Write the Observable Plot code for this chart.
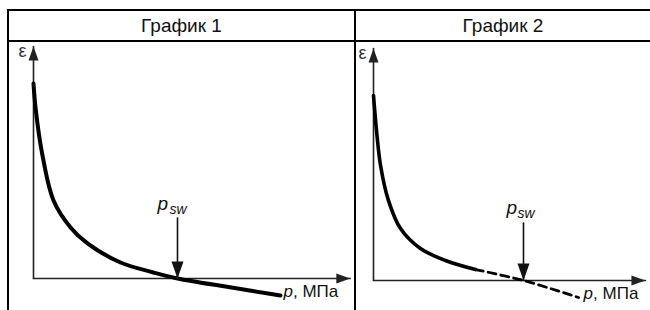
<!DOCTYPE html>
<html><head><meta charset="utf-8">
<script src="https://cdn.jsdelivr.net/npm/d3@7"></script>
<script src="https://cdn.jsdelivr.net/npm/@observablehq/plot@0.6"></script>
<style>
body{margin:0;background:#fff;font-family:"Liberation Sans",Arial,sans-serif}
#wrap{position:relative;width:650px;height:310px;overflow:hidden}
.line{position:absolute;background:#000}
.head{position:absolute;top:12px;height:28px;display:flex;align-items:center;justify-content:center;font-size:19px;color:#111}
#wrap svg{position:absolute;left:0;top:0}
</style></head><body>
<div id="wrap">
 <div class="line" style="left:7px;top:9px;width:643px;height:2px"></div>
 <div class="line" style="left:7px;top:40px;width:643px;height:2px"></div>
 <div class="line" style="left:7px;top:9px;width:2px;height:301px"></div>
 <div class="line" style="left:354px;top:9px;width:2px;height:301px"></div>
 <div class="head" style="left:9px;width:345px">График 1</div>
 <div class="head" style="left:356px;width:294px">График 2</div>
</div>
<script>
// Panel titles
const titles = ["График 1", "График 2"];
const yLabel = "ε";
const xLabelVar = "p";
const xLabelUnit = ", МПа";
const pswMain = "p";
const pswSub = "sw";

// Panel 1 curve (normalized pressure, normalized strain), psw = 1
const pressure1 = [0, 0.014, 0.06, 0.139, 0.257, 0.375, 0.604, 0.833, 1.0, 1.354, 1.715];
const strain1   = [1.0, 0.877, 0.641, 0.4, 0.262, 0.18, 0.082, 0.031, 0, -0.044, -0.087];

// Panel 2 curve: solid (measured) and dashed (extrapolated) parts
const pressure2Solid = [0, 0.02, 0.047, 0.1, 0.18, 0.313, 0.48, 0.68];
const strain2Solid   = [1.0, 0.811, 0.622, 0.432, 0.281, 0.173, 0.108, 0.059];
const pressure2Dash  = [0.68, 1.0, 1.367];
const strain2Dash    = [0.059, 0, -0.092];

const psw = 1.0;
const pswArrowTop = 0.31;

const toRows = (xs, ys) => xs.map((p, i) => ({p, e: ys[i]}));
const headSym = (len, half) => ({draw(ctx) {ctx.moveTo(0, 0); ctx.lineTo(-half, len); ctx.lineTo(half, len); ctx.closePath();}});
const axisHead = headSym(14, 5);
const pswHead = headSym(17, 6);
const AX = "#222";
const FONT = "Liberation Sans";

function panel(cfg) {
  const marks = [
    Plot.line([[0, 0], [0, cfg.yTip]], {stroke: AX, strokeWidth: 1.6}),
    Plot.line([[0, 0], [cfg.xTip, 0]], {stroke: AX, strokeWidth: 1.6}),
    Plot.dot([[0, cfg.yTip]], {symbol: axisHead, fill: AX, stroke: "none", r: 1}),
    Plot.dot([[cfg.xTip, 0]], {symbol: axisHead, fill: AX, stroke: "none", r: 1, rotate: 90}),
    ...cfg.curves,
    Plot.line([[psw, pswArrowTop], [psw, 0]], {stroke: "#111", strokeWidth: 1.6}),
    Plot.dot([[psw, 0]], {symbol: pswHead, fill: "#111", stroke: "none", r: 1, rotate: 180}),
    Plot.text([[0, cfg.yTip]], {text: [yLabel], textAnchor: "end", dx: -7, dy: 5, fontSize: 18, fill: "#333", fontFamily: FONT}),
    Plot.text([[psw, pswArrowTop]], {text: [pswMain], textAnchor: "start", dx: cfg.pDx, dy: cfg.pDy, fontSize: 19, fontStyle: "italic", fill: "#111", fontFamily: FONT}),
    Plot.text([[psw, pswArrowTop]], {text: [pswSub], textAnchor: "start", dx: cfg.sDx, dy: cfg.sDy, fontSize: 14, fontStyle: "italic", fill: "#111", fontFamily: FONT}),
    Plot.text([cfg.end], {text: [xLabelVar], textAnchor: "start", dx: cfg.lDx, dy: cfg.lDy, fontSize: 17, fontStyle: "italic", fill: "#111", fontFamily: FONT}),
    Plot.text([cfg.end], {text: [xLabelUnit], textAnchor: "start", dx: cfg.lDx + 9.5, dy: cfg.lDy, fontSize: 17, fill: "#111", fontFamily: FONT})
  ];
  return Plot.plot({
    width: 650, height: 310, margin: 0,
    x: {domain: [0, 1], range: cfg.xr, axis: null},
    y: {domain: [0, 1], range: cfg.yr, axis: null},
    style: {background: "transparent", overflow: "visible"},
    marks
  });
}

const wrap = document.getElementById("wrap");
const end1 = [pressure1[pressure1.length - 1], strain1[strain1.length - 1]];
wrap.append(panel({
  xr: [33, 177], yr: [278, 83], xTip: 2.2, yTip: 1.19, end: end1,
  pDx: -20, pDy: -14.5, sDx: -8, sDy: -8.5, lDx: 3, lDy: -4,
  curves: [Plot.line(toRows(pressure1, strain1), {x: "p", y: "e", curve: "catmull-rom", stroke: "#000", strokeWidth: 4})]
}));
const end2 = [pressure2Dash[pressure2Dash.length - 1], strain2Dash[strain2Dash.length - 1]];
wrap.append(panel({
  xr: [373, 523], yr: [280, 95], xTip: 1.813, yTip: 1.254, end: end2,
  pDx: -17, pDy: -15.5, sDx: -6, sDy: -9.5, lDx: 5, lDy: -3.5,
  curves: [
    Plot.line(toRows(pressure2Solid, strain2Solid), {x: "p", y: "e", curve: "catmull-rom", stroke: "#000", strokeWidth: 3.6}),
    Plot.line(toRows(pressure2Dash, strain2Dash), {x: "p", y: "e", curve: "catmull-rom", stroke: "#000", strokeWidth: 2.8, strokeDasharray: "8,5"})
  ]
}));
</script>
</body></html>
